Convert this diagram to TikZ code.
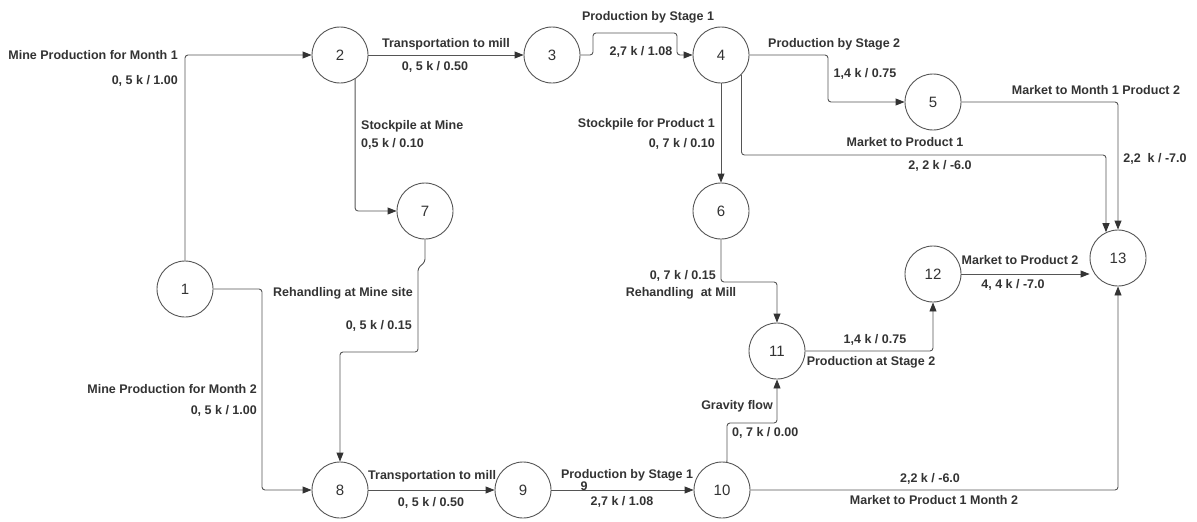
\documentclass[tikz,border=0pt]{standalone}
\usepackage{fontspec}
\setmainfont{Liberation Sans}
\usetikzlibrary{arrows.meta}
\definecolor{ln}{HTML}{555555}
\definecolor{tx}{HTML}{333333}
\begin{document}
\begin{tikzpicture}[x=1pt,y=-1pt,
  nd/.style={circle,draw=ln,fill=white,line width=0.9pt,minimum size=56pt,inner sep=0pt,
             font=\fontsize{15}{18}\selectfont,text=tx},
  lb/.style={font=\bfseries\fontsize{12.5}{14}\selectfont,text=tx,inner sep=0pt,
             text height=9pt,text depth=0pt},
  arr/.style={draw=ln,line width=0.9pt,rounded corners=3pt,
              -{Triangle[length=9pt,width=7pt,color=tx]}}]
\useasboundingbox (0,0) rectangle (1197,522);
% nodes
\node[nd] (n1) at (185,289) {1};
\node[nd] (n2) at (340,55) {2};
\node[nd] (n3) at (552,55) {3};
\node[nd] (n4) at (721,55) {4};
\node[nd] (n5) at (933,102) {5};
\node[nd] (n6) at (721,211) {6};
\node[nd] (n7) at (425,211) {7};
\node[nd] (n8) at (340,490) {8};
\node[nd] (n9) at (523,490) {9};
\node[nd] (n10) at (722,490) {10};
\node[nd] (n11) at (777,351) {11};
\node[nd] (n12) at (933,274) {12};
\node[nd] (n13) at (1118,258) {13};
% waypoints
\coordinate (w18) at (262,400);
\coordinate (a34) at (593,33);
\coordinate (b34) at (677,33);
\coordinate (w45) at (828,80);
\coordinate (w413) at (1106,155);
\coordinate (w611) at (721,282);
\coordinate (j1) at (425,262);
\coordinate (j2) at (418,268);
\coordinate (j3) at (418,352);
\coordinate (w1011) at (727,423);
% connectors
\draw[arr] (n1.north) |- (n2.west);
\draw[arr] (n1.east) -| (w18) |- (n8.west);
\draw[arr] (n2.east) -- (n3.west);
\draw[arr] (n2.-58) |- (n7.west);
\draw[arr] (n3.east) -| (a34) -- (b34) |- (n4.west);
\draw[arr] (n4.east) -| (w45) |- (n5.west);
\draw[arr] (n4.south) -- (n6.north);
\draw[arr] (n4.-44) |- (w413) -- (n13.115);
\draw[arr] (n5.east) -| (n13.north);
\draw[arr] (n6.south) -- (w611) -| (n11.north);
\draw[arr] (n7.south) -- (j1) -- (j2) -- (j3) -| (n8.north);
\draw[arr] (n8.east) -- (n9.west);
\draw[arr] (n9.east) -- (n10.west);
\draw[arr] (n10.80) -- (w1011) -| (n11.south);
\draw[arr] (n10.east) -| (n13.south);
\draw[arr] (n11.east) -| (n12.south);
\draw[arr] (n12.east) -- (n12.east -| n13.west);
% labels
\node[lb,anchor=east] (t1) at (178,55) {Mine Production for Month 1};
\node[lb,anchor=east] (t2) at (178,80) {0, 5 k / 1.00};
\node[lb] (t3) at (446,43) {Transportation to mill};
\node[lb] (t4) at (435,66) {0, 5 k / 0.50};
\node[lb] (t5) at (648,16) {Production by Stage 1};
\node[lb] (t6) at (641,51) {2,7 k / 1.08};
\node[lb,anchor=west] (t7) at (768,43) {Production by Stage 2};
\node[lb] (t8) at (865,73) {1,4 k / 0.75};
\node[lb] (t9) at (1096,90) {Market to Month 1 Product 2};
\node[lb] (t10) at (905,142) {Market to Product 1};
\node[lb] (t11) at (940,165) {2, 2 k / -6.0};
\node[lb] (t12) at (1155,158) {2,2\ \ k / -7.0};
\node[lb,anchor=west] (t13) at (361,125) {Stockpile at Mine};
\node[lb,anchor=west] (t14) at (361,143) {0,5 k / 0.10};
\node[lb,anchor=east] (t15) at (715,123) {Stockpile for Product 1};
\node[lb,anchor=east] (t16) at (715,143) {0, 7 k / 0.10};
\node[lb,anchor=west] (t17) at (273,292) {Rehandling at Mine site};
\node[lb,anchor=east] (t18) at (412,325) {0, 5 k / 0.15};
\node[lb,anchor=east] (t19) at (257,389) {Mine Production for Month 2};
\node[lb,anchor=east] (t20) at (257,410) {0, 5 k / 1.00};
\node[lb,anchor=east] (t21) at (716,275) {0, 7 k / 0.15};
\node[lb] (t22) at (681,292) {Rehandling\ \ at Mill};
\node[lb,anchor=east] (t23) at (773,405) {Gravity flow};
\node[lb,anchor=west] (t24) at (732,432) {0, 7 k / 0.00};
\node[lb,anchor=west] (t25) at (368,475) {Transportation to mill};
\node[lb] (t26) at (431,502) {0, 5 k / 0.50};
\node[lb] (t27) at (627,474) {Production by Stage 1};
\node[lb] (t28) at (584,486) {9};
\node[lb] (t29) at (622,501) {2,7 k / 1.08};
\node[lb] (t30) at (875,339) {1,4 k / 0.75};
\node[lb] (t31) at (871,361) {Production at Stage 2};
\node[lb] (t32) at (1020,260) {Market to Product 2};
\node[lb] (t33) at (1013,284) {4, 4 k / -7.0};
\node[lb] (t34) at (930,478) {2,2 k / -6.0};
\node[lb] (t35) at (934,500) {Market to Product 1 Month 2};
\end{tikzpicture}
\end{document}
